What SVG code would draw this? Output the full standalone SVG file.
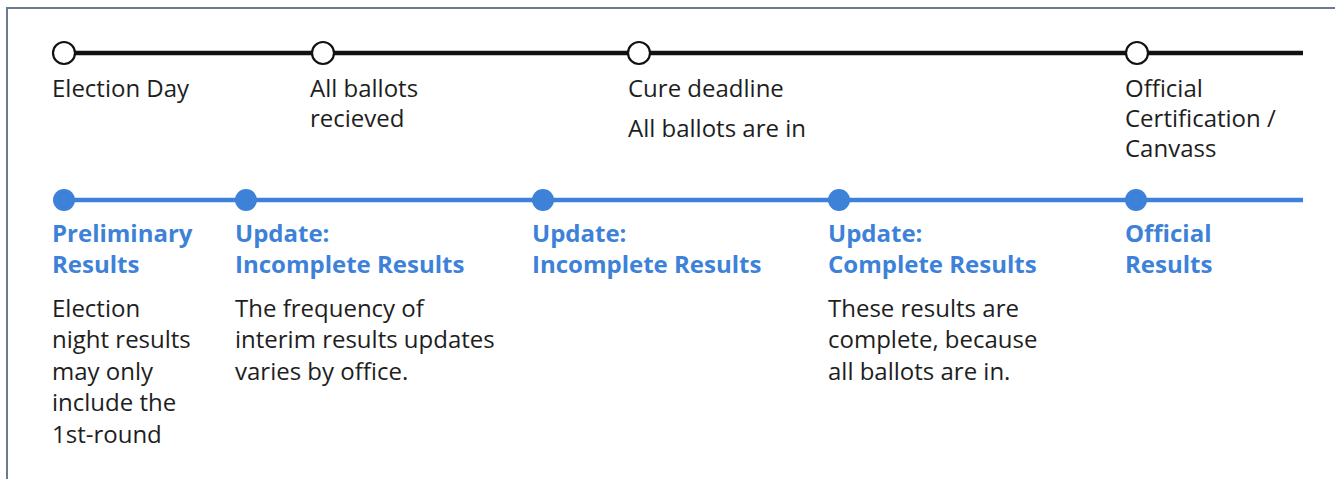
<svg xmlns="http://www.w3.org/2000/svg" width="1335" height="479" viewBox="0 0 1335 479">
  <style>
    .frame { stroke: #6b7a8f; stroke-width: 2; fill: none; }
    .track-top { stroke: #111; stroke-width: 4.5; }
    .track-bottom { stroke: #3d82d8; stroke-width: 4.5; }
    .milestone { fill: #fff; stroke: #111; stroke-width: 2.2; }
    .result { fill: #3d82d8; }
    .label { font-family: "Open Sans", "Noto Sans", sans-serif; font-size: 24px; fill: #1e1e1e; }
    .head { font-family: "Open Sans", "Noto Sans", sans-serif; font-size: 24px; font-weight: 700; fill: #3d82d8; }
  </style>

  <rect width="1335" height="479" fill="#fff"/>
  <!-- frame: left and top edges only -->
  <path class="frame" d="M7 479 V8 H1335"/>

  <g id="connectors">
    <line class="track-top" x1="64" y1="53" x2="1303" y2="53"/>
    <line class="track-bottom" x1="64" y1="200" x2="1303" y2="200"/>
  </g>

  <!-- milestones on the upper track -->
  <g id="election-day">
    <circle class="milestone" cx="64" cy="53" r="11"/>
    <text class="label" x="52" y="97">Election Day</text>
  </g>
  <g id="ballots-received">
    <circle class="milestone" cx="323" cy="53" r="11"/>
    <text class="label" x="310" y="97">All ballots</text>
    <text class="label" x="310" y="127">recieved</text>
  </g>
  <g id="cure-deadline">
    <circle class="milestone" cx="639" cy="53" r="11"/>
    <text class="label" x="628" y="97">Cure deadline</text>
    <text class="label" x="628" y="137">All ballots are in</text>
  </g>
  <g id="certification">
    <circle class="milestone" cx="1137" cy="53" r="11"/>
    <text class="label" x="1125" y="97">Official</text>
    <text class="label" x="1125" y="127">Certification /</text>
    <text class="label" x="1125" y="157">Canvass</text>
  </g>

  <!-- result releases on the lower track -->
  <g id="preliminary-results">
    <circle class="result" cx="64" cy="200" r="11"/>
    <text class="head" x="52" y="242">Preliminary</text>
    <text class="head" x="52" y="273">Results</text>
    <text class="label" x="52" y="317">Election</text>
    <text class="label" x="52" y="348">night results</text>
    <text class="label" x="52" y="380">may only</text>
    <text class="label" x="52" y="411">include the</text>
    <text class="label" x="52" y="443">1st-round</text>
  </g>
  <g id="update-incomplete-1">
    <circle class="result" cx="246" cy="200" r="11"/>
    <text class="head" x="235" y="242">Update:</text>
    <text class="head" x="235" y="273">Incomplete Results</text>
    <text class="label" x="235" y="317">The frequency of</text>
    <text class="label" x="235" y="348">interim results updates</text>
    <text class="label" x="235" y="380">varies by office.</text>
  </g>
  <g id="update-incomplete-2">
    <circle class="result" cx="543" cy="200" r="11"/>
    <text class="head" x="532" y="242">Update:</text>
    <text class="head" x="532" y="273">Incomplete Results</text>
  </g>
  <g id="update-complete">
    <circle class="result" cx="839" cy="200" r="11"/>
    <text class="head" x="828" y="242">Update:</text>
    <text class="head" x="828" y="273">Complete Results</text>
    <text class="label" x="828" y="317">These results are</text>
    <text class="label" x="828" y="348">complete, because</text>
    <text class="label" x="828" y="380">all ballots are in.</text>
  </g>
  <g id="official-results">
    <circle class="result" cx="1136" cy="200" r="11"/>
    <text class="head" x="1125" y="242">Official</text>
    <text class="head" x="1125" y="273">Results</text>
  </g>
</svg>
